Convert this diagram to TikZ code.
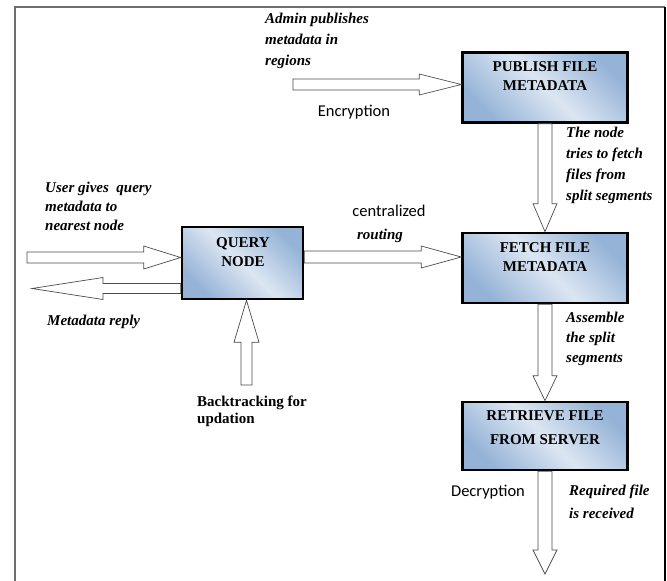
\documentclass[tikz,border=0pt]{standalone}
\usepackage{fontspec}
\setmainfont{Liberation Serif}
\newfontfamily\calib{Carlito}
\usetikzlibrary{calc,positioning}
\definecolor{boxlight}{HTML}{DCE6F2}
\definecolor{boxdark}{HTML}{95B3D7}
\definecolor{framegray}{HTML}{6E6E6E}
\pgfdeclarehorizontalshading{boxshade}{100bp}{color(0bp)=(boxdark); color(25bp)=(boxdark); color(50bp)=(boxlight); color(75bp)=(boxdark); color(100bp)=(boxdark)}
\tikzset{
	procbox/.style={draw=black, line width=2.6pt, shading=boxshade, shading angle=45, minimum width=165pt, minimum height=70pt, inner sep=0pt},
	boxtext/.style={font=\fontsize{15}{19}\selectfont\bfseries, align=center, inner sep=0pt},
	note/.style={font=\fontsize{15}{21}\selectfont\bfseries\itshape, align=left, anchor=north west, inner sep=0pt},
	plain/.style={font=\calib\fontsize{16.5}{19}\selectfont, inner sep=0pt},
	bshaft/.store in=\bshaftw, bhead/.store in=\bheadw, bheadlen/.store in=\bheadl,
	bshaft=5.5pt, bhead=11pt, bheadlen=40pt,
	blockarrow/.style={draw=black!70, fill=white, line width=0.7pt, line join=miter,
		to path={-- ($(\tikztostart)!\bshaftw!90:(\tikztotarget)$)
			-- ($($(\tikztotarget)!\bheadl!(\tikztostart)$)!\bshaftw!90:(\tikztotarget)$)
			-- ($($(\tikztotarget)!\bheadl!(\tikztostart)$)!\bheadw!90:(\tikztotarget)$)
			-- (\tikztotarget)
			-- ($($(\tikztotarget)!\bheadl!(\tikztostart)$)!\bheadw!-90:(\tikztotarget)$)
			-- ($($(\tikztotarget)!\bheadl!(\tikztostart)$)!\bshaftw!-90:(\tikztotarget)$)
			-- ($(\tikztostart)!\bshaftw!-90:(\tikztotarget)$) -- cycle}}
}
\begin{document}
\begin{tikzpicture}[x=1pt, y=-1pt]
	\useasboundingbox (0,0) rectangle (667,581);
	\draw[framegray, line width=1.6pt] (15,581) -- (15,7) -- (665,7);
	\draw[black, line width=1.2pt] (665,7) -- (665,581);

	\node[procbox] (publish) at (545,87.5) {};
	\node[procbox] (fetch) at (545,268) {};
	\node[procbox, minimum height=68pt] (retrieve) at (545,436) {};
	\node[procbox, minimum width=121pt, minimum height=72pt] (query) at (242.5,263) {};
	\node[boxtext] (publishtxt) at (545,76) {PUBLISH FILE\\METADATA};
	\node[boxtext] (fetchtxt) at (545,257) {FETCH FILE\\METADATA};
	\node[boxtext, font=\fontsize{15}{24}\selectfont\bfseries] (retrievetxt) at (545,428) {RETRIEVE FILE\\FROM SERVER};
	\node[boxtext] (querytxt) at (243,252) {QUERY\\NODE};

	\coordinate (adminin) at (293,84.5);
	\coordinate (userin) at (27,257.5);
	\coordinate (replyout) at (32,288.5);
	\coordinate (backin) at (246.5,385);
	\coordinate (routeout) at ($(query.east)+(0,-6)$);
	\coordinate (fileout) at (545,574);
	\draw[blockarrow, bshaft=5.5pt, bhead=10.5pt, bheadlen=42pt] (adminin) to (adminin -| publish.west);
	\draw[blockarrow, bshaft=7pt, bhead=12pt, bheadlen=28pt] (publish.south) to (fetch.north);
	\draw[blockarrow, bshaft=5.5pt, bhead=11.5pt, bheadlen=37pt] (userin) to (userin -| query.west);
	\draw[blockarrow, bshaft=5pt, bhead=11pt, bheadlen=71pt] (replyout -| query.west) to (replyout);
	\draw[blockarrow, bshaft=5.5pt, bhead=12.5pt, bheadlen=42pt] (backin) to (backin |- query.south);
	\draw[blockarrow, bshaft=6pt, bhead=11pt, bheadlen=40pt] (routeout) to (routeout -| fetch.west);
	\draw[blockarrow, bshaft=7pt, bhead=12pt, bheadlen=25pt] (fetch.south) to (retrieve.north);
	\draw[blockarrow, bshaft=7pt, bhead=12pt, bheadlen=24pt] (retrieve.south) to (fileout);

	\node[note] (adminlbl) at (265,13) {Admin publishes\\metadata in\\regions};
	\node[plain] (enclbl) at (354,112) {Encryption};
	\node[note] (fetchlbl) at (566,127) {The node\\tries to fetch\\files from\\split segments};
	\node[note, font=\fontsize{15}{19}\selectfont\bfseries\itshape] (userlbl) at (45,182) {User gives\ \ query\\metadata to\\nearest node};
	\node[note, anchor=west] (replylbl) at (47,322) {Metadata reply};
	\node[note, font=\fontsize{15}{17}\selectfont\bfseries] (backlbl) at (197,396) {Backtracking for\\updation};
	\node[plain] (centlbl) at (389,211) {centralized};
	\node[note, anchor=center] (routelbl) at (380,236) {routing};
	\node[note, font=\fontsize{15}{20}\selectfont\bfseries\itshape] (assemblelbl) at (566,312) {Assemble\\the split\\segments};
	\node[plain] (declbl) at (488,492) {Decryption};
	\node[note, font=\fontsize{15}{23}\selectfont\bfseries\itshape] (recvlbl) at (569,485) {Required file\\is received};
\end{tikzpicture}
\end{document}
